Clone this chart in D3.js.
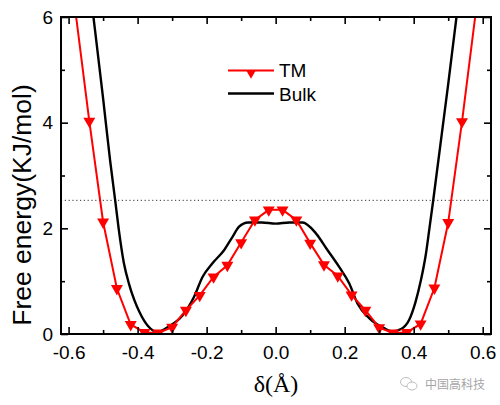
<!DOCTYPE html>
<html>
<head>
<meta charset="utf-8">
<script src="https://cdn.jsdelivr.net/npm/d3@7"></script>
<style>
  body { margin: 0; background: #fff; }
  svg { display: block; }
</style>
</head>
<body>
<div id="chart"></div>
<script>
// TM data (markers every 0.04 Å)
const tmDelta = [-0.58, -0.54, -0.50, -0.46, -0.42, -0.38, -0.34, -0.30, -0.26, -0.22, -0.18, -0.14, -0.10, -0.06, -0.02,
                 0.02, 0.06, 0.10, 0.14, 0.18, 0.22, 0.26, 0.30, 0.34, 0.38, 0.42, 0.46, 0.50, 0.54, 0.58];
const tmEnergy = [6.1, 4.03, 2.12, 0.86, 0.18, 0.03, 0.02, 0.13, 0.45, 0.73, 1.08, 1.30, 1.73, 2.16, 2.35,
                  2.35, 2.16, 1.72, 1.31, 1.10, 0.74, 0.45, 0.12, 0.02, 0.03, 0.19, 0.87, 2.11, 4.02, 6.1];

// Bulk curve (smooth line)
const bulkDelta = [-0.54, -0.528, -0.50, -0.48, -0.465, -0.455, -0.44, -0.425, -0.41, -0.395, -0.37, -0.343, -0.31, -0.27,
                   -0.236, -0.212, -0.183, -0.149, -0.125, -0.106, -0.08, -0.04, 0.0, 0.04, 0.078, 0.116, 0.15, 0.184,
                   0.213, 0.237, 0.271, 0.314, 0.339, 0.365, 0.387, 0.405, 0.421, 0.435, 0.445, 0.457, 0.50, 0.524, 0.54];
const bulkEnergy = [6.65, 6.0, 4.46, 3.3, 2.53, 2.0, 1.35, 0.95, 0.65, 0.42, 0.15, 0.04, 0.14, 0.35,
                    0.71, 1.08, 1.34, 1.59, 1.84, 2.03, 2.11, 2.11, 2.09, 2.11, 2.11, 1.91, 1.59, 1.27,
                    0.96, 0.58, 0.30, 0.11, 0.05, 0.10, 0.27, 0.6, 1.02, 1.5, 1.97, 2.55, 4.73, 6.0, 6.8];

const barrier = 2.53; // dotted reference line

const xTicks = [-0.6, -0.4, -0.2, 0.0, 0.2, 0.4, 0.6];
const xTickLabels = ["-0.6", "-0.4", "-0.2", "0.0", "0.2", "0.4", "0.6"];
const xMinor = [-0.5, -0.3, -0.1, 0.1, 0.3, 0.5];
const yTicks = [0, 2, 4, 6];
const yMinor = [1, 3, 5];

const width = 500, height = 405;
const pLeft = 61, pRight = 491, pTop = 17, pBottom = 334;

const svg = d3.select("#chart").append("svg")
  .attr("width", width)
  .attr("height", height)
  .style("font-family", "Arial, 'Liberation Sans', sans-serif");

const x = d3.scaleLinear().domain([-0.622, 0.624]).range([pLeft, pRight]);
const y = d3.scaleLinear().domain([0, 6]).range([pBottom, pTop]);

svg.append("clipPath").attr("id", "plot-clip")
  .append("rect")
  .attr("x", pLeft).attr("y", pTop)
  .attr("width", pRight - pLeft).attr("height", pBottom - pTop);

const plot = svg.append("g").attr("clip-path", "url(#plot-clip)");

// dotted line
plot.append("line")
  .attr("x1", pLeft).attr("x2", pRight)
  .attr("y1", y(barrier)).attr("y2", y(barrier))
  .attr("stroke", "#333")
  .attr("stroke-width", 1)
  .attr("stroke-dasharray", "1.2,2.6");

// Bulk
const bulk = bulkDelta.map((d, i) => [d, bulkEnergy[i]]);
plot.append("path")
  .datum(bulk)
  .attr("fill", "none")
  .attr("stroke", "#000")
  .attr("stroke-width", 2.4)
  .attr("d", d3.line().x(d => x(d[0])).y(d => y(d[1])).curve(d3.curveMonotoneX));

// TM
const tm = tmDelta.map((d, i) => [d, tmEnergy[i]]);
plot.append("path")
  .datum(tm)
  .attr("fill", "none")
  .attr("stroke", "#ff0000")
  .attr("stroke-width", 2)
  .attr("d", d3.line().x(d => x(d[0])).y(d => y(d[1])));

const tri = d3.symbol().type(d3.symbolTriangle).size(62);
plot.selectAll(".tm-marker")
  .data(tm.filter(d => d[1] <= 6))
  .enter()
  .append("path")
  .attr("class", "tm-marker")
  .attr("d", tri)
  .attr("transform", d => `translate(${x(d[0])},${y(d[1])}) rotate(180)`)
  .attr("fill", "#ff0000");

// Axes (ticks pointing inward, mirrored on top/right)
function styleAxis(g) {
  g.selectAll(".domain").remove();
  g.selectAll("line").attr("stroke", "#000").attr("stroke-width", 1.6);
  g.selectAll("text").attr("fill", "#000").style("font-size", "19px");
}

svg.append("g")
  .attr("transform", `translate(0,${pBottom})`)
  .call(d3.axisBottom(x).tickValues(xTicks).tickSize(-7).tickPadding(12)
    .tickFormat((d, i) => xTickLabels[i]))
  .call(styleAxis);
svg.append("g")
  .attr("transform", `translate(0,${pBottom})`)
  .call(d3.axisBottom(x).tickValues(xMinor).tickSize(-4).tickFormat(""))
  .call(styleAxis);
svg.append("g")
  .attr("transform", `translate(0,${pTop})`)
  .call(d3.axisTop(x).tickValues(xTicks).tickSize(-7).tickFormat(""))
  .call(styleAxis);
svg.append("g")
  .attr("transform", `translate(0,${pTop})`)
  .call(d3.axisTop(x).tickValues(xMinor).tickSize(-4).tickFormat(""))
  .call(styleAxis);

svg.append("g")
  .attr("transform", `translate(${pLeft},0)`)
  .call(d3.axisLeft(y).tickValues(yTicks).tickSize(-7).tickPadding(8).tickFormat(d3.format("d")))
  .call(styleAxis);
svg.append("g")
  .attr("transform", `translate(${pLeft},0)`)
  .call(d3.axisLeft(y).tickValues(yMinor).tickSize(-4).tickFormat(""))
  .call(styleAxis);
svg.append("g")
  .attr("transform", `translate(${pRight},0)`)
  .call(d3.axisRight(y).tickValues(yTicks).tickSize(-7).tickFormat(""))
  .call(styleAxis);
svg.append("g")
  .attr("transform", `translate(${pRight},0)`)
  .call(d3.axisRight(y).tickValues(yMinor).tickSize(-4).tickFormat(""))
  .call(styleAxis);

// frame
svg.append("rect")
  .attr("x", pLeft).attr("y", pTop)
  .attr("width", pRight - pLeft).attr("height", pBottom - pTop)
  .attr("fill", "none")
  .attr("stroke", "#000")
  .attr("stroke-width", 2);

// axis titles
svg.append("text")
  .attr("transform", "translate(31,205) rotate(-90)")
  .attr("text-anchor", "middle")
  .style("font-size", "26.5px")
  .text("Free energy(KJ/mol)");

svg.append("text")
  .attr("x", 276)
  .attr("y", 392)
  .attr("text-anchor", "middle")
  .style("font-family", "'Liberation Serif', 'Times New Roman', serif")
  .style("font-size", "24px")
  .text("δ(Å)");

// legend
const legend = svg.append("g");
legend.append("line")
  .attr("x1", 228).attr("x2", 274).attr("y1", 70.5).attr("y2", 70.5)
  .attr("stroke", "#ff0000").attr("stroke-width", 2);
legend.append("path")
  .attr("d", d3.symbol().type(d3.symbolTriangle).size(44))
  .attr("transform", "translate(251,73) rotate(180)")
  .attr("fill", "#ff0000");
legend.append("text")
  .attr("x", 279).attr("y", 77)
  .style("font-size", "19px")
  .text("TM");
legend.append("line")
  .attr("x1", 228).attr("x2", 274).attr("y1", 93.5).attr("y2", 93.5)
  .attr("stroke", "#000").attr("stroke-width", 2.4);
legend.append("text")
  .attr("x", 279).attr("y", 100.5)
  .style("font-size", "19px")
  .text("Bulk");

// watermark
const wm = svg.append("g").attr("opacity", 0.75);
wm.append("ellipse")
  .attr("cx", 406).attr("cy", 382).attr("rx", 5.5).attr("ry", 4.5)
  .attr("fill", "#fff").attr("stroke", "#aaa").attr("stroke-width", 1);
wm.append("ellipse")
  .attr("cx", 412).attr("cy", 386).attr("rx", 5).attr("ry", 4)
  .attr("fill", "#fff").attr("stroke", "#aaa").attr("stroke-width", 1);
wm.append("text")
  .attr("x", 425).attr("y", 389)
  .style("font-family", "'Noto Sans CJK SC', sans-serif")
  .style("font-size", "12px")
  .attr("fill", "#888")
  .text("中国高科技");
</script>
</body>
</html>
